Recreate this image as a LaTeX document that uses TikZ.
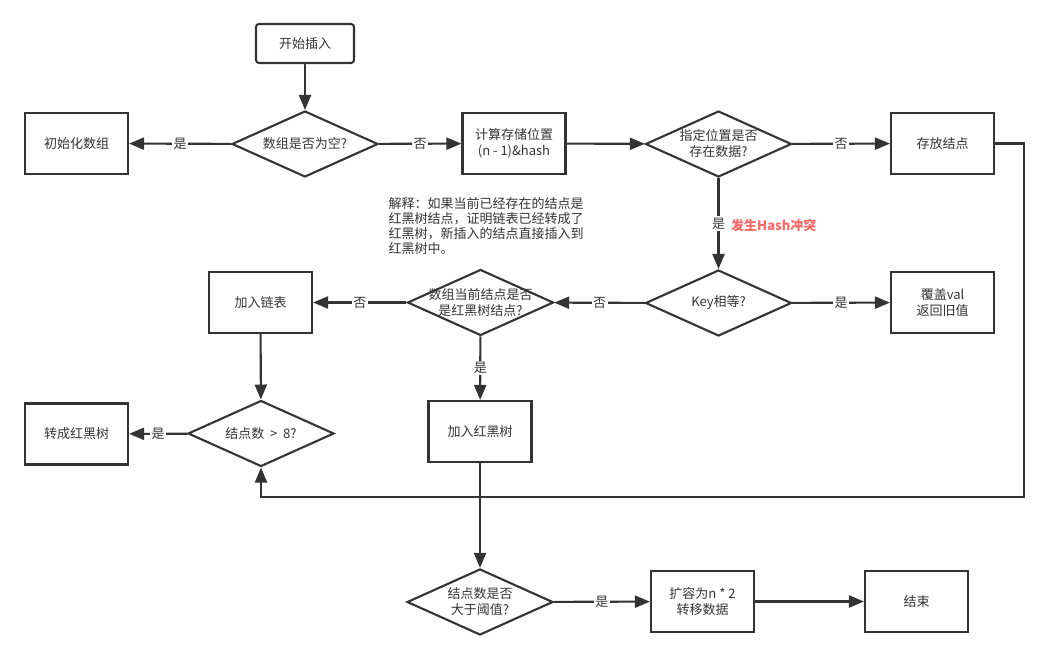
\documentclass[tikz,border=0pt]{standalone}
\usepackage{fontspec}
\setmainfont{Noto Sans CJK SC}
\usetikzlibrary{shapes.geometric,arrows.meta}
\definecolor{ink}{HTML}{333333}
\definecolor{warn}{HTML}{FF6666}
\begin{document}
\begin{tikzpicture}[x=1pt,y=-1pt,
  every node/.style={font=\fontsize{13}{16}\selectfont, text=ink, align=center},
  stepbox/.style={draw=ink, line width=2.1pt, minimum width=103pt, minimum height=61pt, inner sep=0pt},
  startbox/.style={stepbox, rounded corners=3pt, minimum width=98pt, minimum height=39pt},
  decision/.style={draw=ink, line width=2.1pt, shape=diamond, minimum width=146pt, minimum height=66pt, inner sep=0pt},
  flow/.style={draw=ink, line width=2.1pt, -{Triangle[length=15pt,width=12pt]}},
  tag/.style={fill=white, inner sep=1.5pt}]
\useasboundingbox (0,0) rectangle (1049,659);

% process boxes
\node[startbox] (start) at (305,43.5) {开始插入};
\node[stepbox] (init)  at (76.5,143.5) {初始化数组};
\node[stepbox] (calc)  at (514,143.5) {计算存储位置\\(n - 1)\&hash};
\node[stepbox] (store) at (942.5,143.5) {存放结点};
\node[stepbox] (cover) at (942.5,302.5) {覆盖val\\返回旧值};
\node[stepbox] (list)  at (260.5,302.5) {加入链表};
\node[stepbox] (rbt)   at (480,431.5) {加入红黑树};
\node[stepbox] (conv)  at (76.5,434) {转成红黑树};
\node[stepbox] (grow)  at (702.5,601.5) {扩容为n * 2\\转移数据};
\node[stepbox] (done)  at (916.5,601.5) {结束};

% decisions (shape and caption drawn separately so the caption may overhang)
\node[decision] (empty) at (305,144) {};
\node at (empty) {数组是否为空?};
\node[decision] (occ) at (718.5,144) {};
\node at (occ) {指定位置是否\\存在数据?};
\node[decision] (key) at (718.5,303) {};
\node at (key) {Key相等?};
\node[decision] (tree) at (480.5,302.5) {};
\node at (tree) {数组当前结点是否\\是红黑树结点?};
\node[decision] (cnt) at (261,433.5) {};
\node at (cnt) {结点数 \ > \ 8?};
\node[decision] (thr) at (480,602) {};
\node at (thr) {结点数是否\\大于阈值?};

% note
\node[anchor=north west, align=left, font=\fontsize{13}{15}\selectfont] (note) at (385,194)
  {解释：如果当前已经存在的结点是\\红黑树结点，证明链表已经转成了\\红黑树，新插入的结点直接插入到\\红黑树中。};

% connectors
\draw[flow] (start) -- (empty);
\draw[flow] (empty) -- node[tag] {是} (init);
\draw[flow] (empty) -- node[tag] {否} (calc);
\draw[flow] (calc) -- (occ);
\draw[flow] (occ) -- node[tag] {否} (store);
\draw[flow] (occ) -- node[tag] (yes) {是} (key);
\node[anchor=west, text=warn, font=\fontsize{13}{16}\selectfont\bfseries, inner sep=0pt] (clash) at (731,226) {发生Hash冲突};
\draw[flow] (key) -- node[tag] {是} (cover);
\draw[flow] (key) -- node[tag] {否} (tree);
\draw[flow] (tree) -- node[tag] {否} (list);
\draw[flow] (tree) -- node[tag] {是} (rbt);
\draw[flow] (list) -- (cnt);
\draw[flow] (cnt) -- node[tag] {是} (conv);
\coordinate (r1) at (1024,143.5);
\coordinate (r2) at (1024,497);
\coordinate (r3) at (261,497);
\draw[flow] (store.east) -- (r1) -- (r2) -- (r3) -- (cnt.south);
\draw[flow] (rbt) -- (thr);
\draw[flow] (thr) -- node[tag] {是} (grow);
\draw[flow] (grow) -- (done);
\end{tikzpicture}
\end{document}
